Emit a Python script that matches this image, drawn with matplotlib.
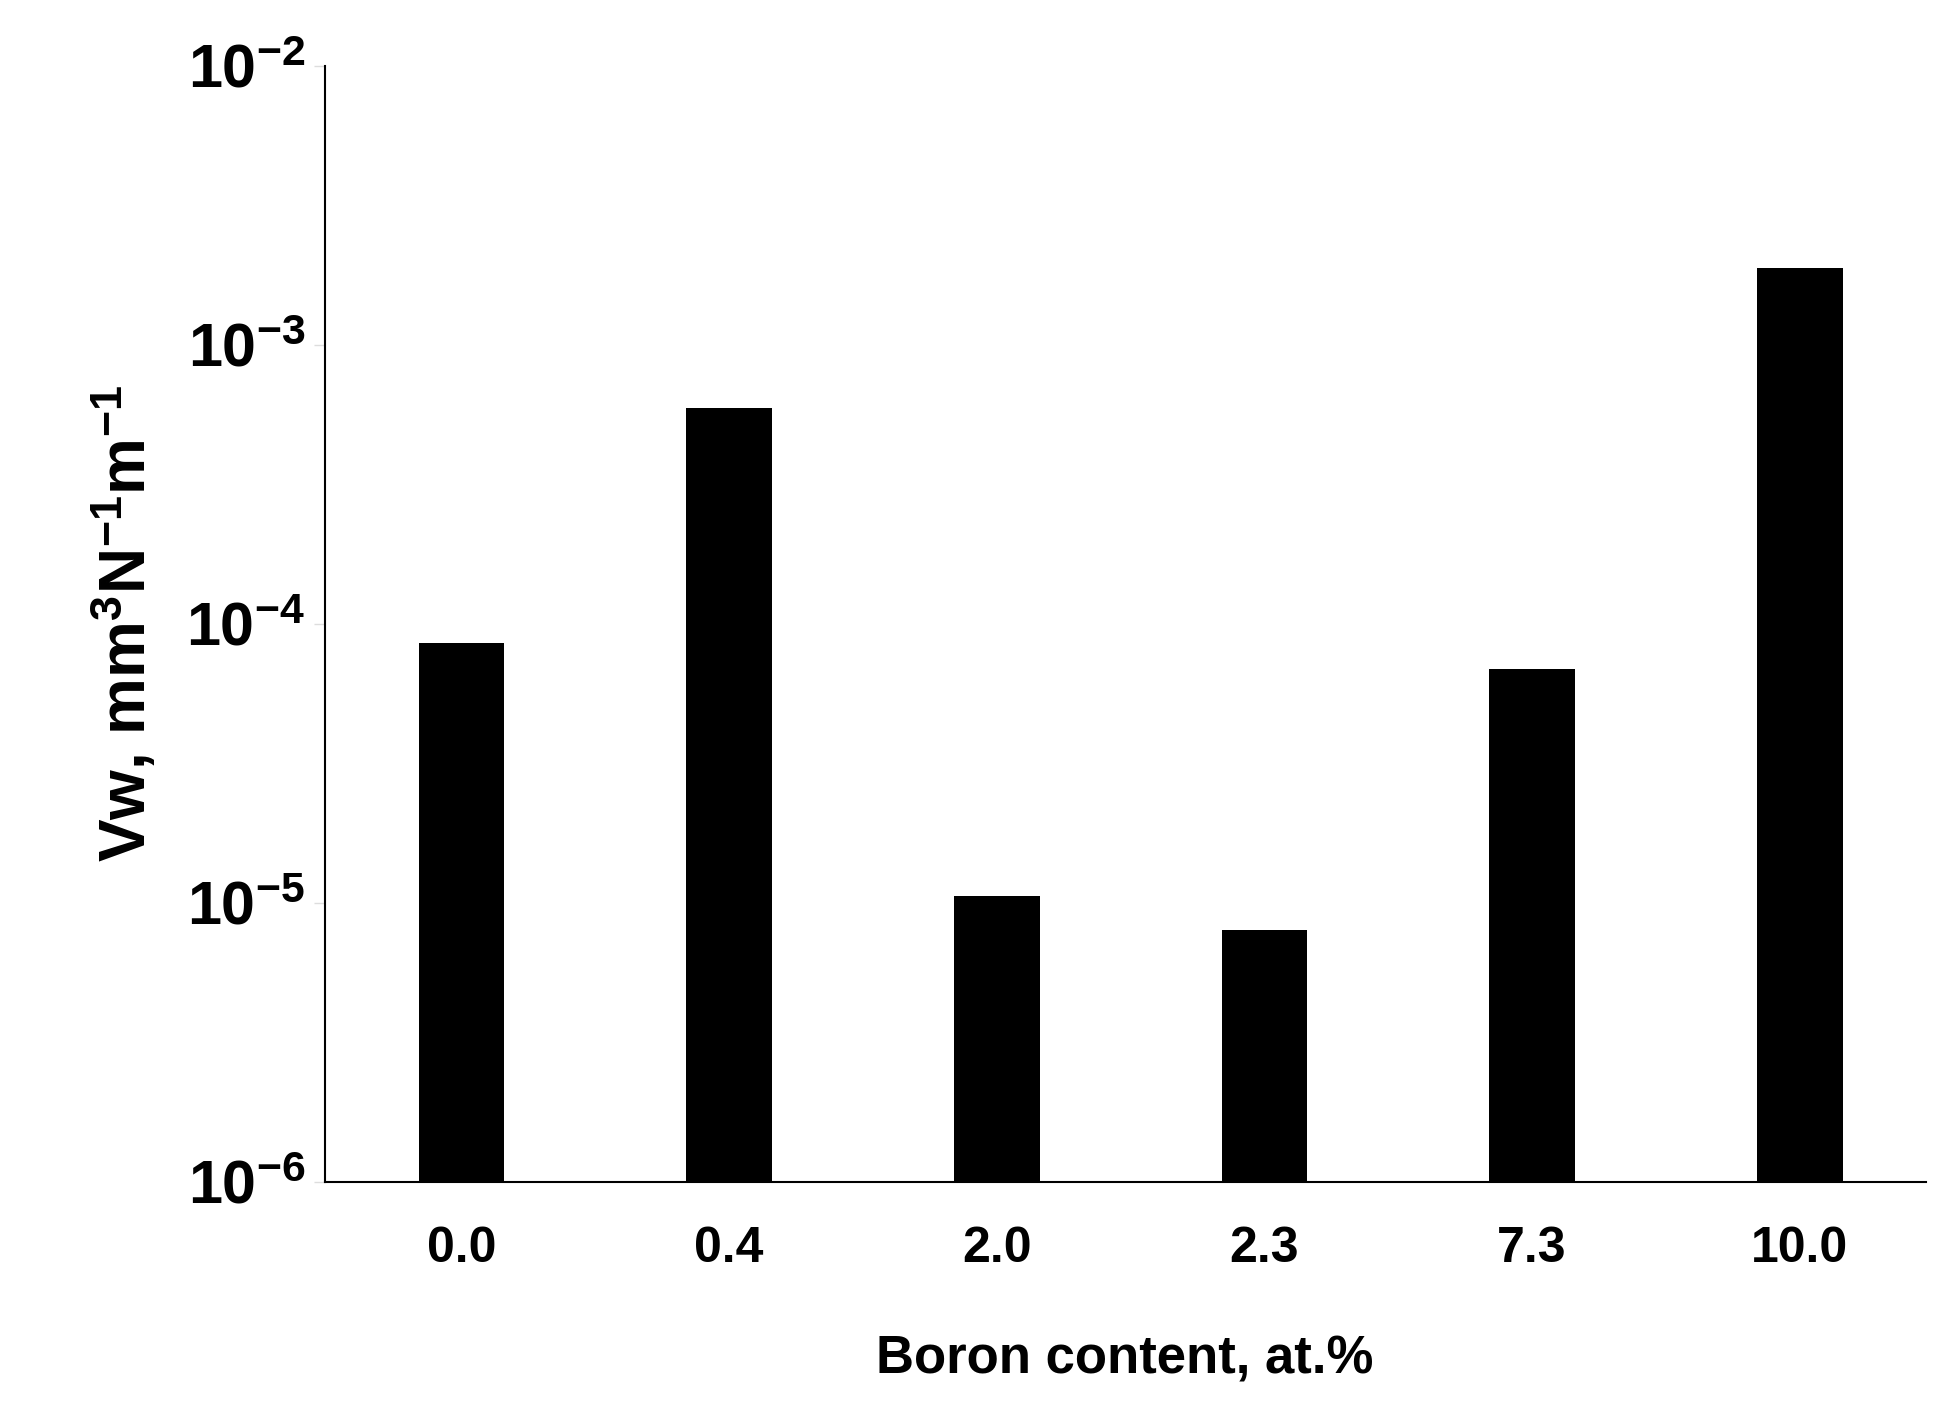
import matplotlib.pyplot as plt
from matplotlib.ticker import FixedLocator

plt.rcParams["font.family"] = ["Liberation Sans", "DejaVu Sans"]
plt.rcParams["font.weight"] = "bold"
plt.rcParams["mathtext.fontset"] = "custom"
plt.rcParams["mathtext.rm"] = "Liberation Sans:bold"
plt.rcParams["mathtext.bf"] = "Liberation Sans:bold"
plt.rcParams["mathtext.it"] = "Liberation Sans:bold"
plt.rcParams["axes.unicode_minus"] = False

# Datos
boron = ["0.0", "0.4", "2.0", "2.3", "7.3", "10.0"]
wear_rate = [8.4e-5, 5.9e-4, 9.6e-6, 7.0e-6, 6.8e-5, 1.88e-3]
decades = [1e-6, 1e-5, 1e-4, 1e-3, 1e-2]
decade_labels = [r"$\mathrm{10^{-6}}$", r"$\mathrm{10^{-5}}$", r"$\mathrm{10^{-4}}$",
                 r"$\mathrm{10^{-3}}$", r"$\mathrm{10^{-2}}$"]

fig = plt.figure(figsize=(19.45, 14.24), dpi=100, facecolor="white")
ax = fig.add_axes([0.167, 0.170, 0.823, 0.784])

x = range(len(boron))
ax.bar(x, wear_rate, width=0.32, color="black", bottom=1e-6)
ax.set_yscale("log")
ax.set_ylim(1e-6, 1e-2)
ax.set_xlim(-0.51, 5.47)

ax.yaxis.set_major_locator(FixedLocator(decades))
ax.yaxis.set_minor_locator(FixedLocator([]))
ax.set_yticks(decades, decade_labels, fontsize=44)
ax.tick_params(axis="y", length=8, width=1, color="#dddddd", pad=6)
ax.set_xticks(list(x), boron, fontsize=36, fontweight="bold")
ax.tick_params(axis="x", length=0, pad=32)

for s in ["top", "right"]:
    ax.spines[s].set_visible(False)
ax.spines["left"].set_linewidth(1.5)
ax.spines["bottom"].set_linewidth(1.5)

ax.set_xlabel("Boron content, at.%", fontsize=38, fontweight="bold", labelpad=45)
ax.set_ylabel(r"Vw, mm$\mathrm{^{3}}$N$\mathrm{^{-1}}$m$\mathrm{^{-1}}$",
              fontsize=46, fontweight="bold", labelpad=20)

plt.savefig("out.png", dpi=100, facecolor="white")
